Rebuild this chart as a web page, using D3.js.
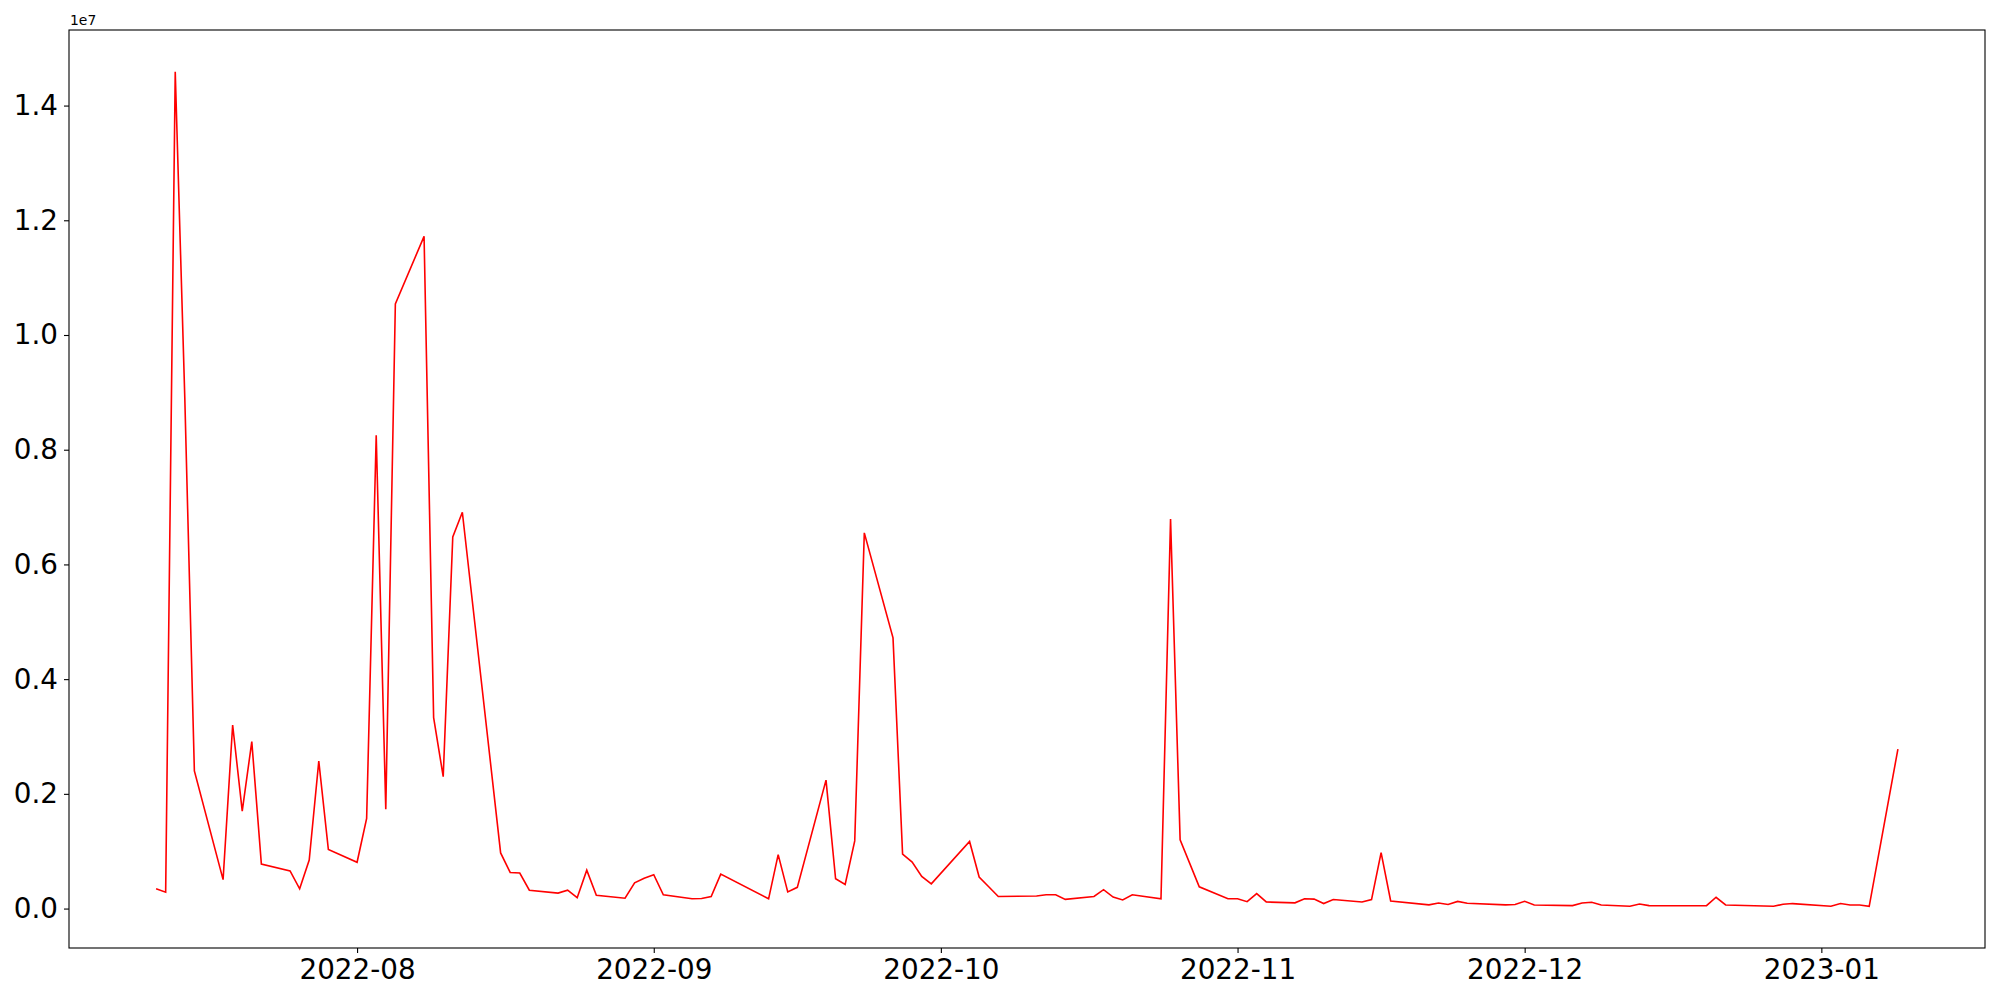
<!DOCTYPE html>
<html>
<head>
<meta charset="utf-8">
<script src="https://cdn.jsdelivr.net/npm/d3@7"></script>
<style>
  body { margin: 0; background: #fff; }
  svg { display: block; }
  .tick text { font-family: "DejaVu Sans", sans-serif; }
</style>
</head>
<body>
<div class="viewbox"></div>
<script>
// daily values
const dates = [
  "2022-07-11", "2022-07-12", "2022-07-13", "2022-07-14", "2022-07-15",
  "2022-07-18", "2022-07-19", "2022-07-20", "2022-07-21", "2022-07-22",
  "2022-07-25", "2022-07-26", "2022-07-27", "2022-07-28", "2022-07-29",
  "2022-08-01", "2022-08-02", "2022-08-03", "2022-08-04", "2022-08-05",
  "2022-08-08", "2022-08-09", "2022-08-10", "2022-08-11", "2022-08-12",
  "2022-08-16", "2022-08-17", "2022-08-18", "2022-08-19",
  "2022-08-22", "2022-08-23", "2022-08-24", "2022-08-25", "2022-08-26",
  "2022-08-29", "2022-08-30", "2022-08-31", "2022-09-01", "2022-09-02",
  "2022-09-05", "2022-09-06", "2022-09-07", "2022-09-08",
  "2022-09-13", "2022-09-14", "2022-09-15", "2022-09-16",
  "2022-09-19", "2022-09-20", "2022-09-21", "2022-09-22", "2022-09-23",
  "2022-09-26", "2022-09-27", "2022-09-28", "2022-09-29", "2022-09-30",
  "2022-10-04", "2022-10-05", "2022-10-06", "2022-10-07",
  "2022-10-11", "2022-10-12", "2022-10-13", "2022-10-14",
  "2022-10-17", "2022-10-18", "2022-10-19", "2022-10-20", "2022-10-21",
  "2022-10-24", "2022-10-25", "2022-10-26", "2022-10-28",
  "2022-10-31", "2022-11-01", "2022-11-02", "2022-11-03", "2022-11-04",
  "2022-11-07", "2022-11-08", "2022-11-09", "2022-11-10", "2022-11-11",
  "2022-11-14", "2022-11-15", "2022-11-16", "2022-11-17",
  "2022-11-21", "2022-11-22", "2022-11-23", "2022-11-24", "2022-11-25",
  "2022-11-29", "2022-11-30", "2022-12-01", "2022-12-02",
  "2022-12-06", "2022-12-07", "2022-12-08", "2022-12-09",
  "2022-12-12", "2022-12-13", "2022-12-14",
  "2022-12-20", "2022-12-21", "2022-12-22",
  "2022-12-27", "2022-12-28", "2022-12-29",
  "2023-01-02", "2023-01-03", "2023-01-04", "2023-01-05", "2023-01-06",
  "2023-01-09"
]

const volume = [
  345000, 286000, 14590000, 8900000, 2400000,
  505000, 3200000, 1700000, 2910000, 776000,
  656000, 345000, 847000, 2570000, 1030000,
  807000, 1570000, 8250000, 1730000, 10540000,
  11720000, 3330000, 2300000, 6480000, 6910000,
  970000, 630000, 620000, 320000,
  270000, 320000, 190000, 670000, 230000,
  180000, 450000, 530000, 590000, 240000,
  170000, 175000, 210000, 600000,
  170000, 940000, 290000, 370000,
  2240000, 520000, 420000, 1180000, 6550000,
  4720000, 950000, 810000, 560000, 430000,
  1170000, 550000, 380000, 210000,
  220000, 240000, 240000, 160000,
  210000, 330000, 200000, 150000, 240000,
  170000, 6790000, 1200000, 380000,
  170000, 170000, 120000, 260000, 115000,
  100000, 170000, 165000, 87000, 157000,
  115000, 157000, 976000, 133000,
  65000, 98000, 70000, 125000, 92000,
  65000, 72000, 127000, 63000,
  52000, 98000, 110000, 63000,
  40000, 80000, 52000,
  50000, 197000, 63000,
  40000, 75000, 87000,
  40000, 87000, 63000, 63000, 40000,
  2780000
]

const yTicks = [0, 2e6, 4e6, 6e6, 8e6, 10e6, 12e6, 14e6]
const xTickLabels = ["2022-08", "2022-09", "2022-10", "2022-11", "2022-12", "2023-01"]

const svg_width = 2000
const svg_height = 1000
const margin = { top: 30, right: 15, bottom: 52, left: 69 }
const w = svg_width - margin.left - margin.right
const h = svg_height - margin.top - margin.bottom

const parse = d3.timeParse("%Y-%m-%d")
const data = dates.map((d, i) => ({ date: parse(d), v: volume[i] }))

// matplotlib style 5% padding on both axes
const xExt = d3.extent(data, d => d.date)
const xPad = (xExt[1] - xExt[0]) * 0.05
const yExt = d3.extent(data, d => d.v)
const yPad = (yExt[1] - yExt[0]) * 0.05

const x = d3.scaleTime()
  .domain([new Date(+xExt[0] - xPad), new Date(+xExt[1] + xPad)])
  .range([0, w])
const y = d3.scaleLinear()
  .domain([yExt[0] - yPad, yExt[1] + yPad])
  .range([h, 0])

let svg = d3.select(".viewbox")
  .append("svg")
  .attr("width", svg_width)
  .attr("height", svg_height)

let g = svg.append("g")
  .attr("transform", `translate(${margin.left},${margin.top})`)

const line = d3.line()
  .x(d => x(d.date))
  .y(d => y(d.v))

g.append("path")
  .datum(data)
  .attr("fill", "none")
  .attr("stroke", "red")
  .attr("stroke-width", 1.6)
  .attr("stroke-linejoin", "miter")
  .attr("d", line)

const xTicks = xTickLabels.map(s => d3.timeParse("%Y-%m")(s))

let xAxis = g.append("g")
  .attr("transform", `translate(0,${h})`)
  .call(d3.axisBottom(x)
    .tickValues(xTicks)
    .tickFormat(d3.timeFormat("%Y-%m"))
    .tickSize(5)
    .tickPadding(6)
    .tickSizeOuter(0))

let yAxis = g.append("g")
  .call(d3.axisLeft(y)
    .tickValues(yTicks)
    .tickFormat(d => (d / 1e7).toFixed(1))
    .tickSize(5)
    .tickPadding(6)
    .tickSizeOuter(0))

for (const ax of [xAxis, yAxis]) {
  ax.select(".domain").remove()
  ax.selectAll(".tick line").attr("stroke", "#000").attr("stroke-width", 1.1)
  ax.selectAll(".tick text")
    .attr("fill", "#000")
    .style("font-size", "27.8px")
}

// frame around the plot area
g.append("rect")
  .attr("width", w)
  .attr("height", h)
  .attr("fill", "none")
  .attr("stroke", "#000")
  .attr("stroke-width", 1.1)

// offset text for y axis
g.append("text")
  .attr("x", 1)
  .attr("y", -5)
  .style("font-family", "DejaVu Sans, sans-serif")
  .style("font-size", "13.9px")
  .text("1e7")
</script>
</body>
</html>
